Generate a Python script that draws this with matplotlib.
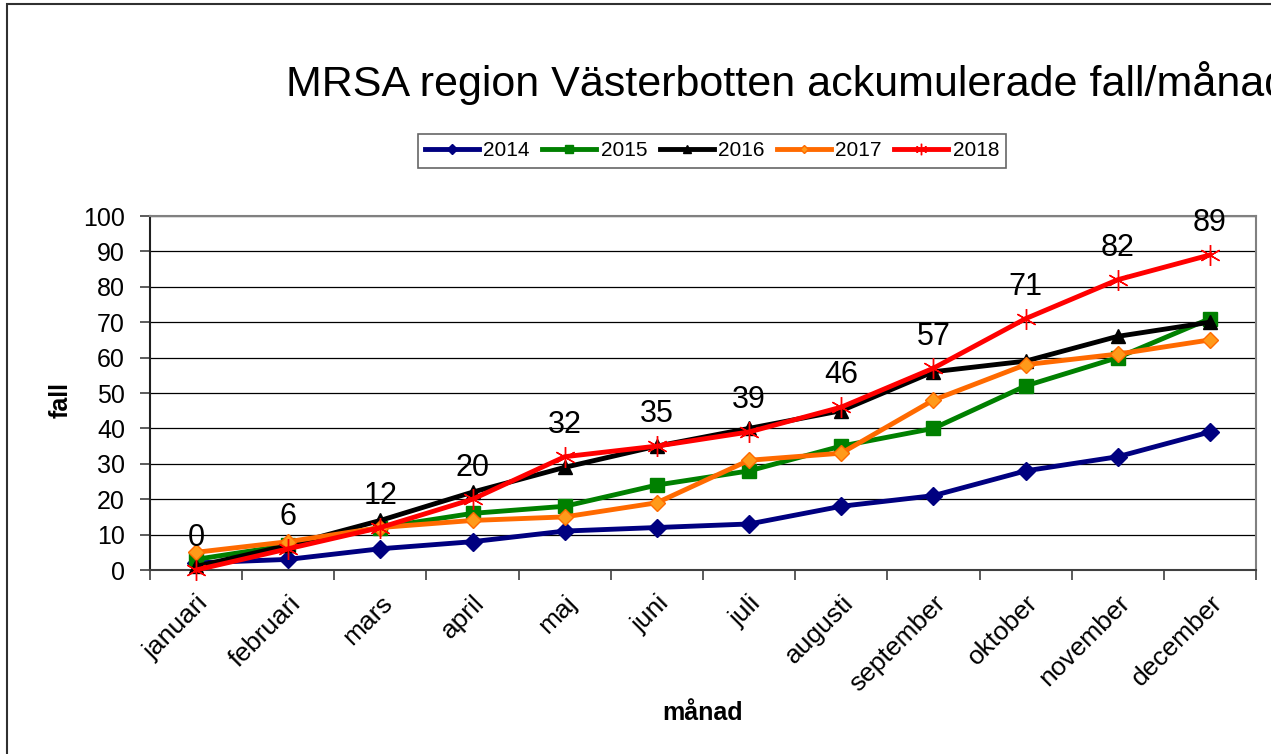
import matplotlib
matplotlib.use('Agg')
import matplotlib.pyplot as plt
import matplotlib.patches as patches
from matplotlib.ticker import MultipleLocator, FixedLocator

plt.rcParams['font.family'] = ['Liberation Sans', 'DejaVu Sans']

# data
months = ['januari', 'februari', 'mars', 'april', 'maj', 'juni', 'juli',
          'augusti', 'september', 'oktober', 'november', 'december']
years = ['2014', '2015', '2016', '2017', '2018']
cases_2014 = [2, 3, 6, 8, 11, 12, 13, 18, 21, 28, 32, 39]
cases_2015 = [3, 7, 12, 16, 18, 24, 28, 35, 40, 52, 60, 71]
cases_2016 = [1, 7, 14, 22, 29, 35, 40, 45, 56, 59, 66, 70]
cases_2017 = [5, 8, 12, 14, 15, 19, 31, 33, 48, 58, 61, 65]
cases_2018 = [0, 6, 12, 20, 32, 35, 39, 46, 57, 71, 82, 89]

series = [cases_2014, cases_2015, cases_2016, cases_2017, cases_2018]
styles = [
    dict(color='#000080', marker='D', markersize=9, mfc='#000080', mec='#000080'),
    dict(color='#008000', marker='s', markersize=10.5, mfc='#008000', mec='#008000'),
    dict(color='#000000', marker='^', markersize=10.5, mfc='#000000', mec='#000000'),
    dict(color='#FF6A00', marker='D', markersize=8.3, mfc='#FF9A1A', mec='#FF6A00'),
    dict(color='#FF0000', marker=(6, 2, 0), markersize=15, mfc='none', mec='#FF0000', mew=1.0),
]

fig = plt.figure(figsize=(12.71, 7.54), dpi=100)
ax = fig.add_axes([150/1271, 1 - 570/754, (1256-150)/1271, (570-216)/754])

x = list(range(len(months)))
for vals, name, st in zip(series, years, styles):
    ax.plot(x, vals, lw=3.5, label=name, clip_on=False, zorder=3, **st)

# data labels for 2018
for xi, v in zip(x, cases_2018):
    ax.annotate(str(v), (xi, v), xytext=(0, 12), textcoords='offset points',
                ha='center', va='bottom', fontsize=22, zorder=4)

ax.set_xlim(-0.5, len(months) - 0.5)
ax.set_ylim(0, 100)
ax.yaxis.set_major_locator(MultipleLocator(10))
ax.grid(axis='y', color='black', lw=0.9, zorder=1)
ax.set_axisbelow(True)

ax.set_xticks(x)
ax.set_xticklabels(months, rotation=45, ha='right', rotation_mode='anchor')
ax.xaxis.set_minor_locator(FixedLocator([i - 0.5 for i in range(len(months) + 1)]))
ax.tick_params(axis='x', which='major', length=0, pad=15, labelsize=19)
ax.tick_params(axis='x', which='minor', length=7, width=1.2, color='#404040')
ax.tick_params(axis='y', length=7, width=1.2, color='#404040', pad=11, labelsize=18)

for s in ['top', 'right']:
    ax.spines[s].set_color('#808080')
    ax.spines[s].set_linewidth(1.5)
ax.spines['left'].set_color('#202020')
ax.spines['bottom'].set_color('#404040')
ax.spines['left'].set_linewidth(1.5)
ax.spines['bottom'].set_linewidth(1.5)

ax.set_ylabel('fall', fontsize=18, fontweight='bold')
ax.yaxis.set_label_coords(-0.0696, 0.48)
ax.set_xlabel('månad', fontsize=18, fontweight='bold')
ax.xaxis.set_label_coords(0.5, -0.37)

leg = fig.legend(loc='center', bbox_to_anchor=(712/1271, 1 - 151/754), ncol=5,
                 fontsize=15, handlelength=2.6, handletextpad=0.2, columnspacing=0.6,
                 markerscale=0.55, frameon=True, fancybox=False, borderpad=0.35)
leg.get_frame().set_edgecolor('#404040')
leg.get_frame().set_linewidth(1.2)

fig.text(286/1271, 1 - 83/754, 'MRSA region Västerbotten ackumulerade fall/månad',
         fontsize=31, ha='left', va='center')

# outer chart border (clipped on right/bottom like the screenshot)
fig.add_artist(patches.Rectangle((7/1271, -0.1), 1.2, 1.1 - 4/754, transform=fig.transFigure,
                                 fill=False, ec='#303030', lw=1.5))

plt.savefig('out.png', dpi=100)
